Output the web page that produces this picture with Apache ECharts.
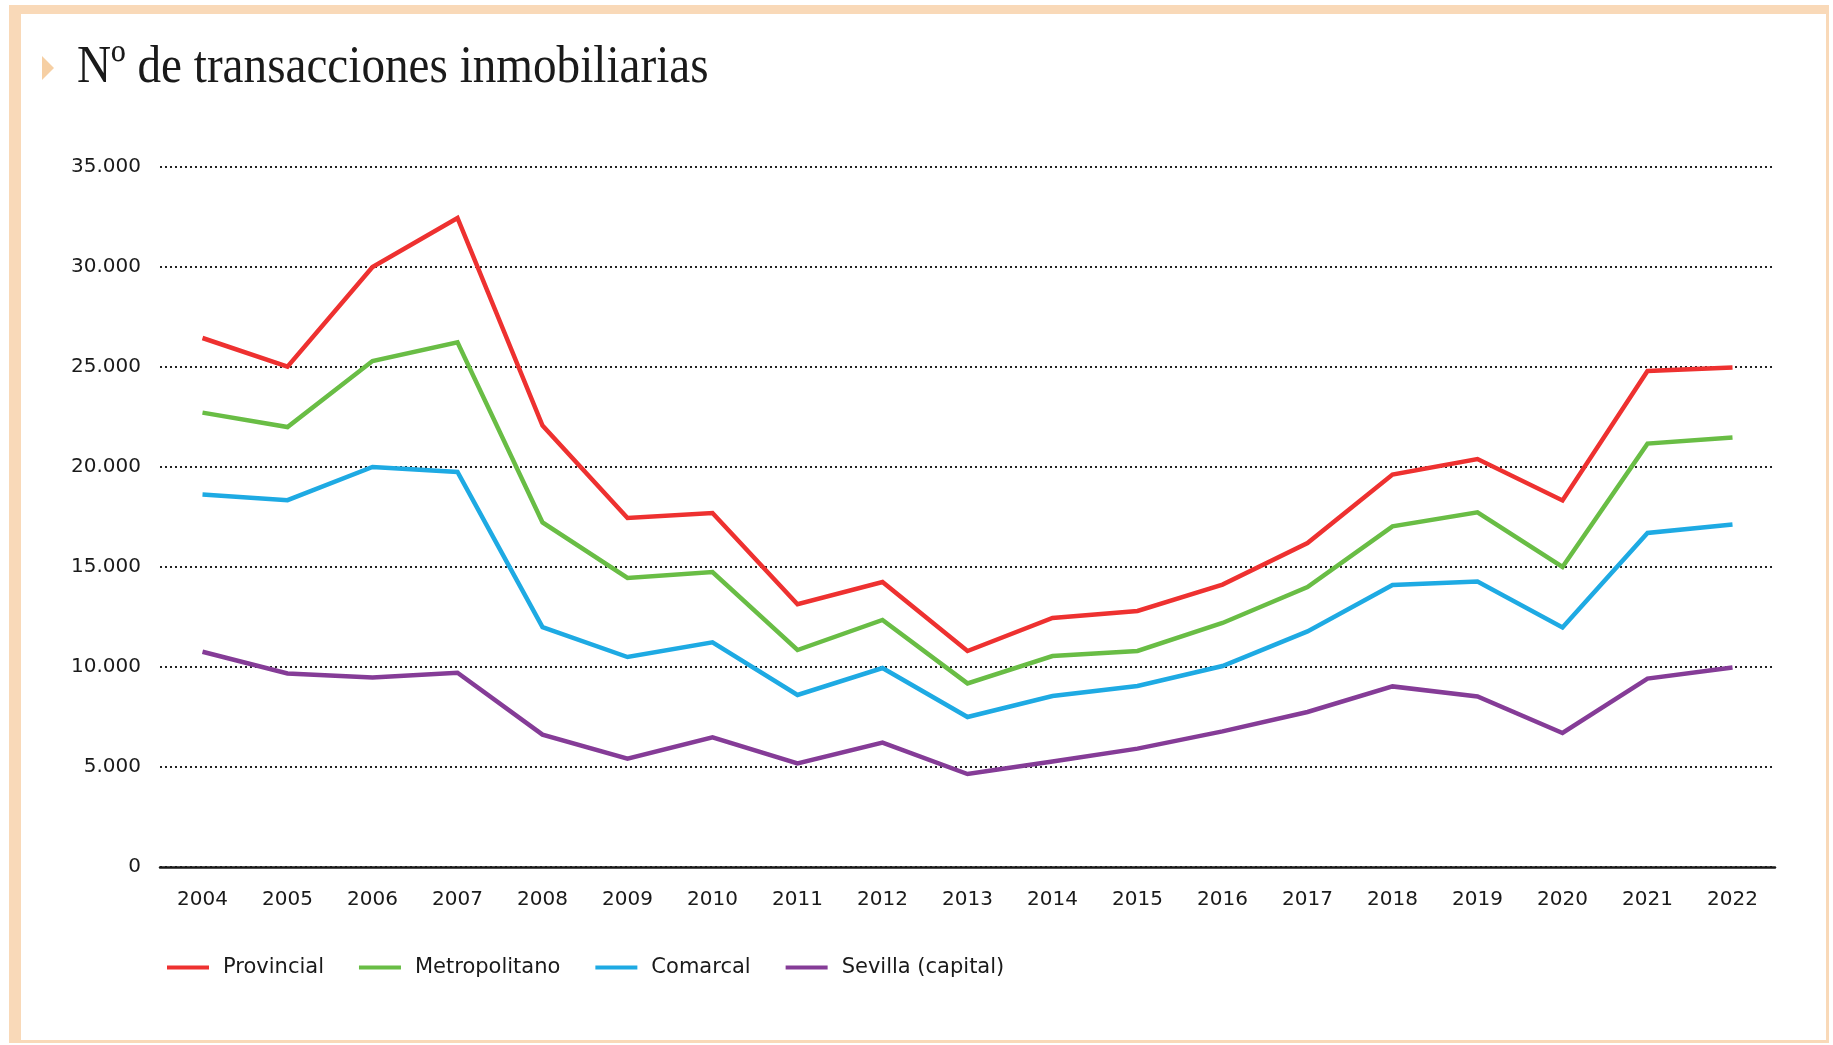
<!DOCTYPE html>
<html>
<head>
<meta charset="utf-8">
<script src="https://cdn.jsdelivr.net/npm/echarts@6/dist/echarts.min.js"></script>
<style>
  html, body { margin: 0; padding: 0; background: #ffffff; }
  #frame { position: absolute; left: 9px; top: 5px; width: 1805px; height: 1026px;
           border-top: 9px solid #f9d9b8; border-left: 12px solid #f9d9b8;
           border-right: 3px solid #f9d9b8; border-bottom: 3px solid #f9d9b8; }
  #chart { position: absolute; left: 0; top: 0; width: 1833px; height: 1045px; }
</style>
</head>
<body>
<div id="frame"></div>
<div id="chart"></div>
<script>
const titleText = 'Nº de transacciones inmobiliarias';
const years = ['2004','2005','2006','2007','2008','2009','2010','2011','2012','2013','2014','2015','2016','2017','2018','2019','2020','2021','2022'];
const seriesNames = ['Provincial', 'Metropolitano', 'Comarcal', 'Sevilla (capital)'];
const provincial = [26450, 25020, 30000, 32450, 22070, 17450, 17700, 13140, 14250, 10800, 12450, 12800, 14120, 16200, 19620, 20400, 18330, 24800, 24980];
const metropolitano = [22720, 22000, 25300, 26230, 17230, 14450, 14750, 10850, 12350, 9180, 10550, 10800, 12200, 14000, 17030, 17730, 15000, 21170, 21470];
const comarcal = [18630, 18340, 20000, 19750, 11990, 10500, 11230, 8600, 9950, 7500, 8550, 9050, 10050, 11780, 14100, 14280, 11980, 16700, 17130];
const sevilla = [10760, 9680, 9480, 9710, 6620, 5420, 6480, 5180, 6220, 4650, 5270, 5920, 6780, 7750, 9030, 8530, 6700, 9420, 9970];
const yTicks = [0, 5000, 10000, 15000, 20000, 25000, 30000, 35000];

const colors = ['#ee3130', '#69bd45', '#1eaae3', '#853c97'];
const seriesData = [provincial, metropolitano, comarcal, sevilla];
const fontSans = '"DejaVu Sans", "Open Sans", sans-serif';

function fmt(v) { return String(v).replace(/\B(?=(\d{3})+(?!\d))/g, '.'); }

const chart = echarts.init(document.getElementById('chart'), null, { renderer: 'canvas' });
chart.setOption({
  backgroundColor: 'transparent',
  animation: false,
  graphic: [
    { type: 'polygon', shape: { points: [[42, 56], [54, 68], [42, 80]] }, style: { fill: '#f6cfa3' } },
    { type: 'text', x: 77, y: 68, scaleX: 0.89,
      style: { text: titleText, font: 'normal 53px "Liberation Serif", serif', fill: '#1a1a1a', verticalAlign: 'middle', align: 'left' } }
  ],
  legend: {
    data: seriesNames,
    left: 162, top: 952,
    icon: 'rect', itemWidth: 42, itemHeight: 4, itemGap: 35,
    textStyle: { fontFamily: fontSans, fontSize: 21, color: '#1a1a1a', padding: [0, 0, 0, 9] }
  },
  grid: { left: 160, right: 58, top: 167, bottom: 178, containLabel: false },
  xAxis: {
    type: 'category', data: years, boundaryGap: true,
    axisLine: { show: true, lineStyle: { color: '#1a1a1a', width: 2.5 } },
    axisTick: { show: false },
    axisLabel: { fontFamily: fontSans, fontSize: 20, color: '#1a1a1a', margin: 23 }
  },
  yAxis: {
    type: 'value', min: yTicks[0], max: yTicks[yTicks.length - 1], interval: 5000,
    axisLine: { show: false }, axisTick: { show: false },
    axisLabel: { fontFamily: fontSans, fontSize: 20, color: '#1a1a1a', margin: 19, formatter: fmt },
    splitLine: { show: true, lineStyle: { color: '#222', width: 2, type: [2, 3] } }
  },
  series: seriesNames.map((name, i) => ({
    name, type: 'line', data: seriesData[i], symbol: 'none',
    lineStyle: { color: colors[i], width: 4.5, join: 'miter' },
    itemStyle: { color: colors[i] }
  }))
});
</script>
</body>
</html>
